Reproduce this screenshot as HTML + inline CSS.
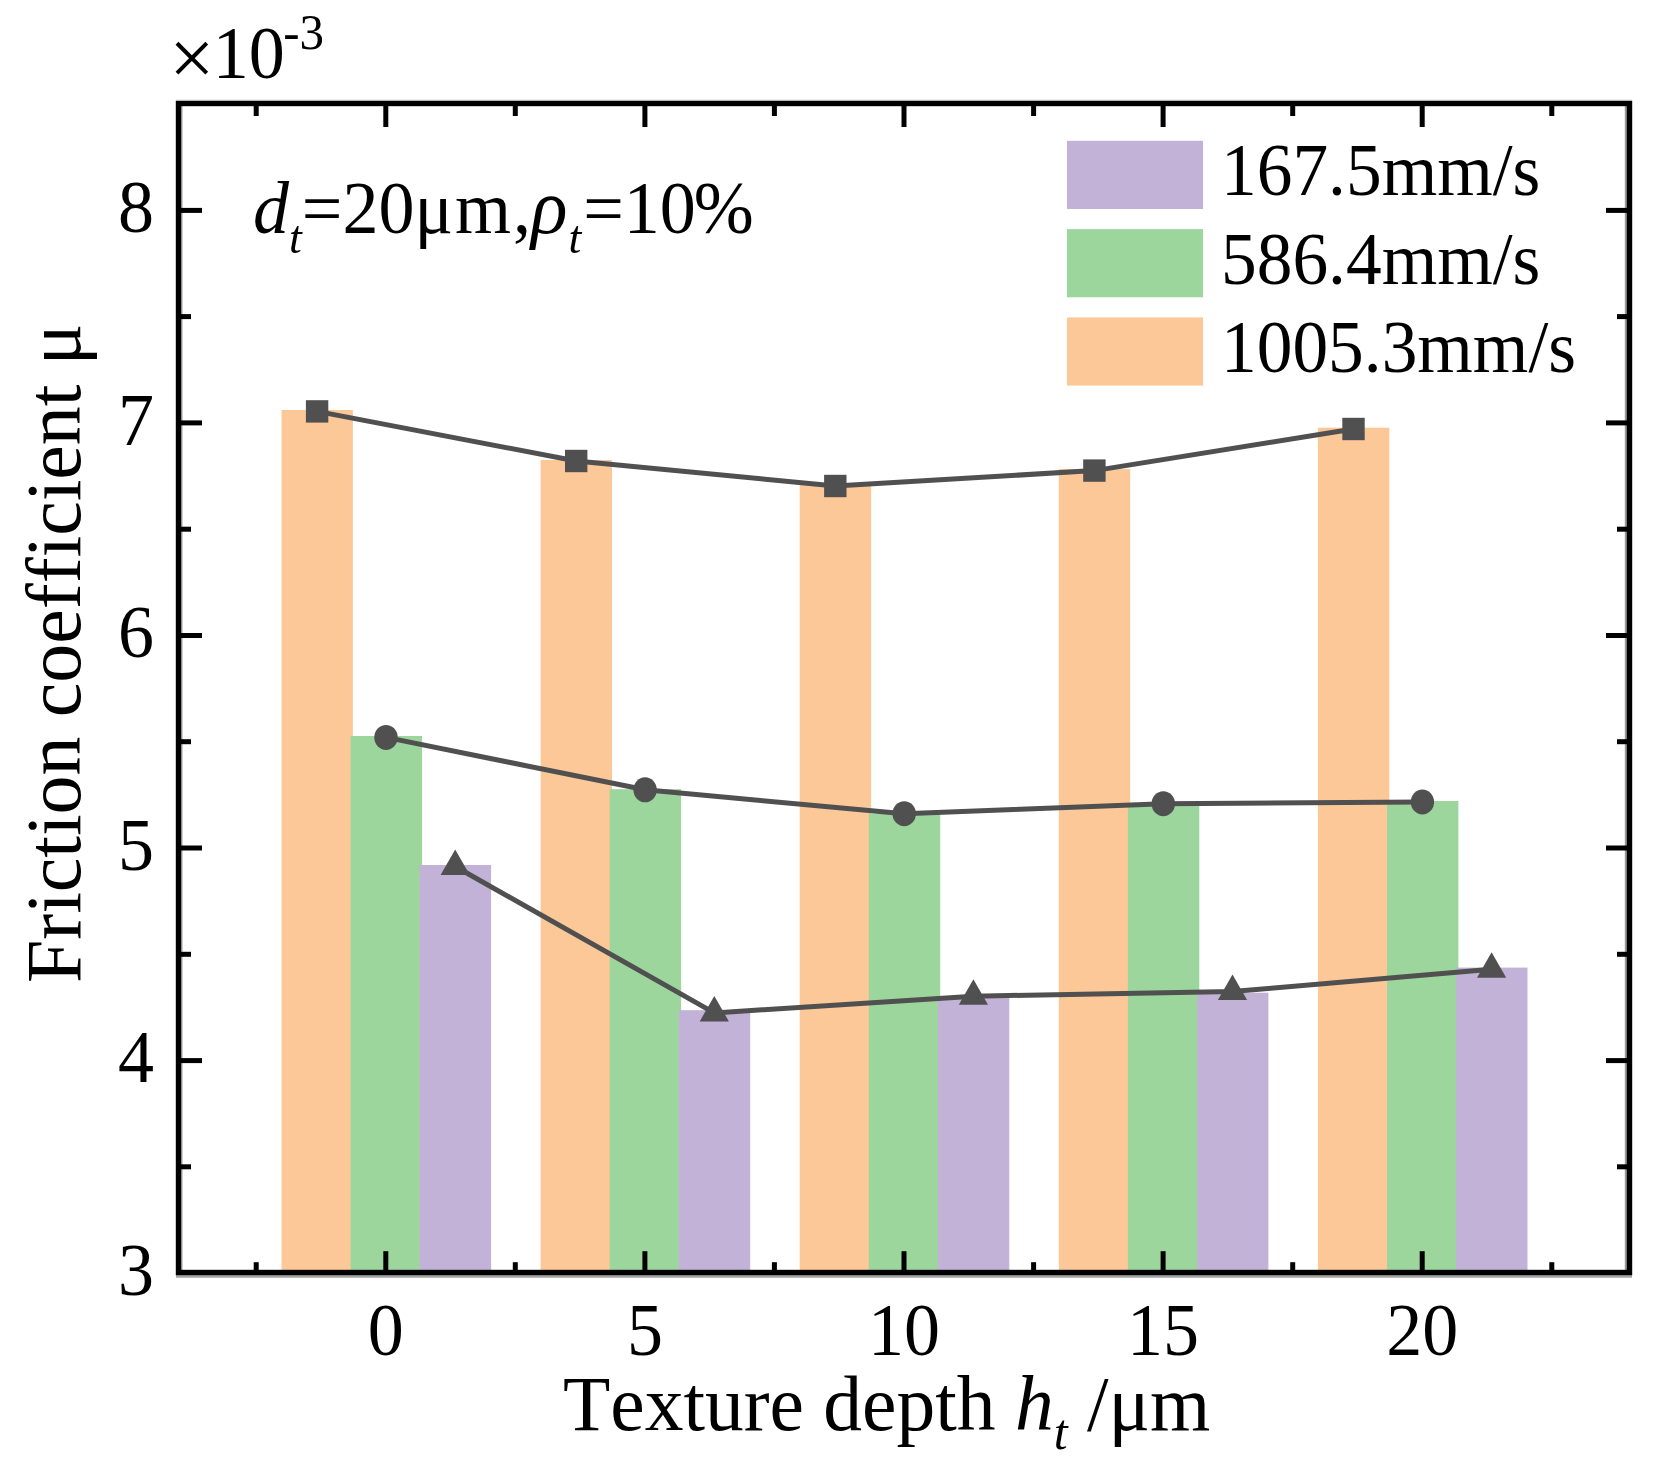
<!DOCTYPE html>
<html><head><meta charset="utf-8"><title>Friction coefficient chart</title>
<style>
html,body{margin:0;padding:0;background:#fff;}
body{width:1655px;height:1467px;overflow:hidden;}
svg{display:block;filter:blur(0.55px);}
text{font-family:"Liberation Serif","Times New Roman",serif;fill:#000;font-kerning:none;font-variant-ligatures:none;}
.it{font-style:italic;}
</style></head><body>
<svg width="1655" height="1467" viewBox="0 0 1655 1467">
<rect x="0" y="0" width="1655" height="1467" fill="#fff"/>
<g id="bars">
<rect x="281.5" y="410.0" width="71.4" height="862.5" fill="#FCC898"/>
<rect x="350.6" y="736.0" width="71.4" height="536.5" fill="#9DD69D"/>
<rect x="419.7" y="865.0" width="71.4" height="407.5" fill="#C2B2D7"/>
<rect x="540.6" y="460.0" width="71.4" height="812.5" fill="#FCC898"/>
<rect x="609.7" y="789.2" width="71.4" height="483.3" fill="#9DD69D"/>
<rect x="678.8" y="1010.2" width="71.4" height="262.3" fill="#C2B2D7"/>
<rect x="799.7" y="484.6" width="71.4" height="787.9" fill="#FCC898"/>
<rect x="868.8" y="813.5" width="71.4" height="459.0" fill="#9DD69D"/>
<rect x="937.9" y="997.0" width="71.4" height="275.5" fill="#C2B2D7"/>
<rect x="1058.8" y="469.1" width="71.4" height="803.4" fill="#FCC898"/>
<rect x="1127.9" y="804.0" width="71.4" height="468.5" fill="#9DD69D"/>
<rect x="1197.0" y="992.7" width="71.4" height="279.8" fill="#C2B2D7"/>
<rect x="1317.9" y="427.7" width="71.4" height="844.8" fill="#FCC898"/>
<rect x="1387.0" y="801.0" width="71.4" height="471.5" fill="#9DD69D"/>
<rect x="1456.1" y="967.6" width="71.4" height="304.9" fill="#C2B2D7"/>
</g>
<g id="lines" fill="none" stroke="#505050" stroke-width="5" stroke-linejoin="round">
<polyline points="317.1,411.4 576.2,461.0 835.3,486.0 1094.4,470.6 1353.5,429.0"/>
<polyline points="386.0,737.4 645.1,789.8 904.2,813.7 1163.3,803.7 1422.4,802.0"/>
<polyline points="455.2,866.5 714.3,1012.9 973.4,996.2 1232.5,991.5 1491.6,969.3"/>
</g>
<g id="markers" fill="#505050">
<rect x="305.9" y="400.2" width="22.4" height="22.4"/>
<ellipse cx="386.0" cy="737.4" rx="11.7" ry="12.5"/>
<polygon points="455.2,849.5 440.6,875.0 469.8,875.0"/>
<rect x="565.0" y="449.8" width="22.4" height="22.4"/>
<ellipse cx="645.1" cy="789.8" rx="11.7" ry="12.5"/>
<polygon points="714.3,995.9 699.7,1021.4 728.9,1021.4"/>
<rect x="824.1" y="474.8" width="22.4" height="22.4"/>
<ellipse cx="904.2" cy="813.7" rx="11.7" ry="12.5"/>
<polygon points="973.4,979.2 958.8,1004.7 988.0,1004.7"/>
<rect x="1083.2" y="459.4" width="22.4" height="22.4"/>
<ellipse cx="1163.3" cy="803.7" rx="11.7" ry="12.5"/>
<polygon points="1232.5,974.5 1217.9,1000.0 1247.1,1000.0"/>
<rect x="1342.3" y="417.8" width="22.4" height="22.4"/>
<ellipse cx="1422.4" cy="802.0" rx="11.7" ry="12.5"/>
<polygon points="1491.6,952.3 1477.0,977.8 1506.2,977.8"/>
</g>
<g id="soft" fill="#a6a6a6"><rect x="176" y="1275" width="1456" height="2.8"/><rect x="1624.8" y="104" width="2.4" height="1168" fill="#9a9a9a"/><rect x="181" y="104" width="1.6" height="1168" fill="#b0b0b0"/><rect x="176" y="99.4" width="1456" height="1.6" fill="#e4e4e4"/></g>
<g id="ticks" stroke="#000" stroke-width="5" fill="none">
<line x1="256.2" y1="103.5" x2="256.2" y2="116.0"/><line x1="256.2" y1="1272.5" x2="256.2" y2="1262.2"/>
<line x1="385.8" y1="103.5" x2="385.8" y2="127.0"/><line x1="385.8" y1="1272.5" x2="385.8" y2="1251.2"/>
<line x1="515.3" y1="103.5" x2="515.3" y2="116.0"/><line x1="515.3" y1="1272.5" x2="515.3" y2="1262.2"/>
<line x1="644.9" y1="103.5" x2="644.9" y2="127.0"/><line x1="644.9" y1="1272.5" x2="644.9" y2="1251.2"/>
<line x1="774.4" y1="103.5" x2="774.4" y2="116.0"/><line x1="774.4" y1="1272.5" x2="774.4" y2="1262.2"/>
<line x1="904.0" y1="103.5" x2="904.0" y2="127.0"/><line x1="904.0" y1="1272.5" x2="904.0" y2="1251.2"/>
<line x1="1033.6" y1="103.5" x2="1033.6" y2="116.0"/><line x1="1033.6" y1="1272.5" x2="1033.6" y2="1262.2"/>
<line x1="1163.1" y1="103.5" x2="1163.1" y2="127.0"/><line x1="1163.1" y1="1272.5" x2="1163.1" y2="1251.2"/>
<line x1="1292.7" y1="103.5" x2="1292.7" y2="116.0"/><line x1="1292.7" y1="1272.5" x2="1292.7" y2="1262.2"/>
<line x1="1422.2" y1="103.5" x2="1422.2" y2="127.0"/><line x1="1422.2" y1="1272.5" x2="1422.2" y2="1251.2"/>
<line x1="1551.8" y1="103.5" x2="1551.8" y2="116.0"/><line x1="1551.8" y1="1272.5" x2="1551.8" y2="1262.2"/>
<line x1="178.5" y1="1166.8" x2="191.0" y2="1166.8"/><line x1="1629.5" y1="1166.8" x2="1617.0" y2="1166.8"/>
<line x1="178.5" y1="1060.6" x2="202.0" y2="1060.6"/><line x1="1629.5" y1="1060.6" x2="1606.0" y2="1060.6"/>
<line x1="178.5" y1="954.3" x2="191.0" y2="954.3"/><line x1="1629.5" y1="954.3" x2="1617.0" y2="954.3"/>
<line x1="178.5" y1="848.0" x2="202.0" y2="848.0"/><line x1="1629.5" y1="848.0" x2="1606.0" y2="848.0"/>
<line x1="178.5" y1="741.7" x2="191.0" y2="741.7"/><line x1="1629.5" y1="741.7" x2="1617.0" y2="741.7"/>
<line x1="178.5" y1="635.5" x2="202.0" y2="635.5"/><line x1="1629.5" y1="635.5" x2="1606.0" y2="635.5"/>
<line x1="178.5" y1="529.2" x2="191.0" y2="529.2"/><line x1="1629.5" y1="529.2" x2="1617.0" y2="529.2"/>
<line x1="178.5" y1="422.9" x2="202.0" y2="422.9"/><line x1="1629.5" y1="422.9" x2="1606.0" y2="422.9"/>
<line x1="178.5" y1="316.6" x2="191.0" y2="316.6"/><line x1="1629.5" y1="316.6" x2="1617.0" y2="316.6"/>
<line x1="178.5" y1="210.4" x2="202.0" y2="210.4"/><line x1="1629.5" y1="210.4" x2="1606.0" y2="210.4"/>
</g>
<rect x="178.5" y="103.5" width="1451.0" height="1169.0" fill="none" stroke="#000" stroke-width="5.4"/>
<g id="ylabels" font-size="72" text-anchor="end">
<text transform="translate(154,1294.8) scale(1,1.04)">3</text>
<text transform="translate(154,1082.3) scale(1,1.04)">4</text>
<text transform="translate(154,869.7) scale(1,1.04)">5</text>
<text transform="translate(154,657.2) scale(1,1.04)">6</text>
<text transform="translate(154,444.6) scale(1,1.04)">7</text>
<text transform="translate(154,232.1) scale(1,1.04)">8</text>
</g>
<g id="xlabels" font-size="72" text-anchor="middle">
<text transform="translate(385.8,1354.6) scale(1,1.04)">0</text>
<text transform="translate(644.9,1354.6) scale(1,1.04)">5</text>
<text transform="translate(904.0,1354.6) scale(1,1.04)">10</text>
<text transform="translate(1163.1,1354.6) scale(1,1.04)">15</text>
<text transform="translate(1422.2,1354.6) scale(1,1.04)">20</text>
</g>
<text x="169.3" y="84.6" font-size="80">×</text><text transform="translate(212.7,78) scale(1,1.04)" font-size="72">10<tspan font-size="49" dy="-28.3" dx="-1.5">-3</tspan></text>
<text transform="translate(253,233.2) scale(1,1.03)" font-size="72"><tspan class="it">d</tspan><tspan class="it" font-size="46" dy="19">t</tspan><tspan dy="-19">=20μ</tspan><tspan dx="2">m</tspan><tspan dx="2">,</tspan><tspan class="it" font-size="76">ρ</tspan><tspan class="it" font-size="46" dy="19" dx="1">t</tspan><tspan dy="-19" dx="2">=10</tspan><tspan dx="-2">%</tspan></text>
<rect x="1067" y="140.8" width="136" height="68.2" fill="#C2B2D7"/>
<text transform="translate(1221,195.4) scale(1,1.035)" font-size="71.4">167.5mm/s</text>
<rect x="1067" y="229.1" width="136" height="68.2" fill="#9DD69D"/>
<text transform="translate(1221,283.7) scale(1,1.035)" font-size="71.4">586.4mm/s</text>
<rect x="1067" y="317.4" width="136" height="68.2" fill="#FCC898"/>
<text transform="translate(1221,372.0) scale(1,1.035)" font-size="71.4">1005.3mm/s</text>
<text x="563" y="1430" font-size="77.5">Texture depth <tspan class="it">h</tspan><tspan class="it" font-size="50" dy="19">t</tspan><tspan dy="-19"> /μm</tspan></text>
<text transform="translate(79.5,983) rotate(-90)" font-size="77.8">Friction coefficient μ</text>
</svg>
</body></html>
